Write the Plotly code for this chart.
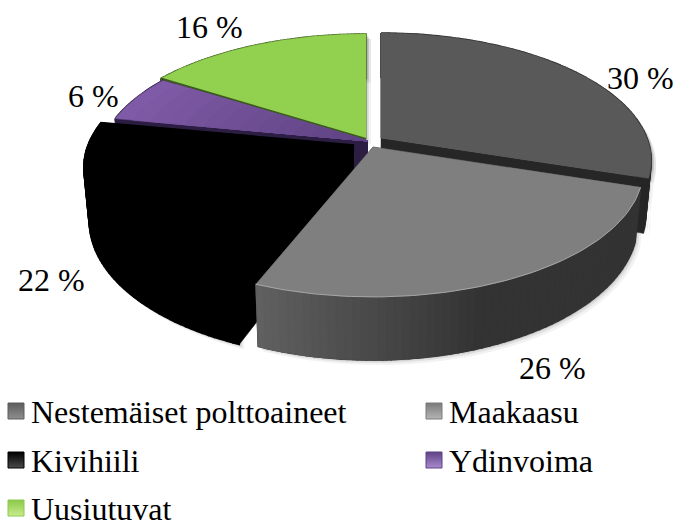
"""Energy mix as a tilted, exploded 3D-looking pie"""
import numpy as np
import plotly.graph_objects as go

names = ['Nestemäiset polttoaineet', 'Maakaasu', 'Kivihiili', 'Ydinvoima', 'Uusiutuvat']
values = [30, 26, 22, 6, 16]
top_colors = ['#595959', '#7f7f7f', '#000000', '#6a4a8f', '#92d050']
wall_colors = ['#262626', '#333333', '#000000', '#2c1e42', '#3d5a20']
legend_dark = ['#5c5c5c', '#7a7a7a', '#000000', '#5f4383', '#8cc84b']
legend_light = ['#8f8f8f', '#b5b5b5', '#4a4a4a', '#a98ad0', '#c8ec8e']

# explosion of each slice from the pie centre, in pixels
explode_x = [11, 3, -16, -2, -4]
explode_y = [-9, 0, -2, -6, -8]

CX, CY = 370, 147
RX, RY = 266, 123.5   # ellipse radii before perspective
K = 0.176             # perspective strength
DEPTH = 52
BOTTOM_SHRINK = 0.98

fig = go.Figure()


def project(theta, radius=1.0, drop=False):
    """Map clockwise-from-top angle (degrees) to page coordinates"""
    t = np.radians(theta)
    s = radius * np.sin(t)
    c = -radius * np.cos(t)
    d = 1 - K * c
    x = RX * s / d
    y = RY * c / d
    if drop:
        x = x * BOTTOM_SHRINK
        y = y + DEPTH / d
    return x, y


def poly(xs, ys, color, line=None, width=0.5):
    fig.add_trace(go.Scatter(
        x=xs, y=ys, mode='lines', fill='toself', fillcolor=color,
        line=dict(color=line or color, width=width), hoverinfo='skip'
    ))


def wall_quads(a0, a1, ox, oy, n=60):
    """Outer wall as separate quads, so it does not twist at the silhouette"""
    arc = np.linspace(a0, a1, n + 1)
    tx, ty = project(arc)
    bx, by = project(arc, drop=True)
    xs, ys = [], []
    for j in range(n):
        xs += [tx[j], tx[j + 1], bx[j + 1], bx[j], tx[j], None]
        ys += [ty[j], ty[j + 1], by[j + 1], by[j], ty[j], None]
    xs = [v + CX + ox if v is not None else None for v in xs]
    ys = [v + CY + oy if v is not None else None for v in ys]
    return xs, ys


def radial_wall(a, ox, oy):
    tx, ty = project(np.array([a, a]), np.array([0.0, 1.0]))
    bx, by = project(np.array([a, a]), np.array([0.0, 1.0]), drop=True)
    xs = np.concatenate([tx, bx[::-1]]) + CX + ox
    ys = np.concatenate([ty, by[::-1]]) + CY + oy
    return xs, ys


def top_face(a0, a1, ox, oy, r=1.0):
    tx, ty = project(np.linspace(a0, a1, 80), r)
    xs = np.concatenate([[0], tx, [0]]) + CX + ox
    ys = np.concatenate([[0], ty, [0]]) + CY + oy
    return xs, ys


def lerp_color(c0, c1, u):
    a = [int(c0[i:i + 2], 16) for i in (1, 3, 5)]
    b = [int(c1[i:i + 2], 16) for i in (1, 3, 5)]
    return 'rgb(%d,%d,%d)' % tuple(round(p + (q - p) * u) for p, q in zip(a, b))


# slice angles, clockwise from 12 o'clock
edges = np.cumsum([0] + values) / sum(values) * 360
spans = [(edges[i], edges[i + 1]) for i in range(len(values))]

# soft shadow under the front of the pie
for d, alpha in [(5, 0.05), (3, 0.07), (1.5, 0.09)]:
    for i, (a0, a1) in enumerate(spans):
        ox, oy = explode_x[i] + d, explode_y[i] + d
        for xs, ys in [wall_quads(a0, a1, ox, oy, 24), top_face(a0, a1, ox, oy)]:
            poly(xs, ys, 'rgba(0,0,0,%g)' % alpha, line='rgba(0,0,0,0)', width=0)

# back-to-front painting order
for i in [4, 3, 0, 2, 1]:
    a0, a1 = spans[i]
    ox, oy = explode_x[i], explode_y[i]

    for a in (a0, a1):
        poly(*radial_wall(a, ox, oy), wall_colors[i])
    poly(*wall_quads(a0, a1, ox, oy), wall_colors[i], width=1.5)

    # front wall lightens towards its left end
    if names[i] == 'Maakaasu':
        strip = np.linspace(a1, a1 - 42, 29)
        for j in range(len(strip) - 1):
            col = lerp_color('#606060', wall_colors[i], j / 27)
            poly(*wall_quads(strip[j], strip[j + 1], ox, oy, 1), col, width=1.2)

    # top face; purple fades from the rim towards the tip
    steps = 14 if names[i] == 'Ydinvoima' else 1
    for j in range(steps):
        col = lerp_color('#7f5aa6', '#5f4383', j / max(steps - 1, 1)) if steps > 1 else top_colors[i]
        poly(*top_face(a0, a1, ox, oy, 1 - j / steps), col,
             width=1.5 if names[i] == 'Kivihiili' else 0.5)

    if names[i] == 'Maakaasu':
        tx, ty = project(np.linspace(a0, a1, 80))
        fig.add_trace(go.Scatter(x=tx + CX + ox, y=ty + CY + oy, mode='lines',
                                 line=dict(color='#a6a6a6', width=1), hoverinfo='skip'))
    if names[i] == 'Uusiutuvat':
        tx, ty = project(np.array([a0, a0]), np.array([0.0, 1.0]))
        fig.add_trace(go.Scatter(x=tx + CX + ox, y=ty + CY + oy, mode='lines',
                                 line=dict(color='#3d5a20', width=2), hoverinfo='skip'))

# percentage labels
label_x = [640, 552, 51, 93, 209]
label_y = [78, 368, 280, 96, 27]
for v, lx, ly in zip(values, label_x, label_y):
    fig.add_annotation(x=lx, y=ly, text=f'{v} %', showarrow=False,
                       font=dict(family='Liberation Serif', size=32, color='#000000'))

# legend, two columns filled row by row
legend_col = [16, 434]
legend_row = [411, 460, 508]
for i, name in enumerate(names):
    mx, my = legend_col[i % 2], legend_row[i // 2]
    fig.add_trace(go.Scatter(
        x=[mx], y=[my], mode='markers',
        marker=dict(symbol='square', size=16, color=legend_dark[i],
                    gradient=dict(type='vertical', color=legend_light[i]),
                    line=dict(color=legend_dark[i], width=1)),
        hoverinfo='skip'
    ))
    fig.add_annotation(x=mx + 13, y=my + 1, text=name, showarrow=False, xanchor='left',
                       font=dict(family='Liberation Serif', size=32, color='#000000'))

fig.update_layout(
    width=677, height=526,
    margin=dict(l=0, r=0, t=0, b=0),
    paper_bgcolor='white', plot_bgcolor='white',
    showlegend=False, hovermode=False,
    xaxis=dict(range=[0, 677], visible=False, fixedrange=True),
    yaxis=dict(range=[526, 0], visible=False, fixedrange=True),
)

fig.write_html("out.html", config=dict(displayModeBar=False),
               post_script="document.body.style.margin='0';")
